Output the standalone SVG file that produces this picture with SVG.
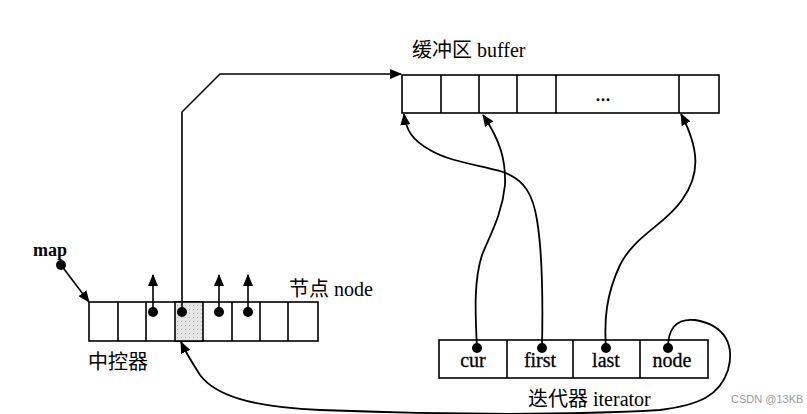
<svg xmlns="http://www.w3.org/2000/svg" width="807" height="414" viewBox="0 0 807 414">
<defs>
<marker id="ah" markerWidth="12" markerHeight="10" refX="11" refY="5" orient="auto" markerUnits="userSpaceOnUse">
<path d="M0,0 L12,5 L0,10 Z" fill="#000"/>
</marker>
<pattern id="sh" width="4" height="4" patternUnits="userSpaceOnUse">
<rect width="4" height="4" fill="#e6e6e6"/>
<rect x="1" y="1" width="1" height="1" fill="#aaa"/>
</pattern>
</defs>
<style>
.box{fill:#fff;stroke:#000;stroke-width:1.6}
.ln{fill:none;stroke:#000;stroke-width:1.6}
.cv{fill:none;stroke:#000;stroke-width:1.8}
.dot{fill:#000}
.lab{font-family:"Liberation Serif","Noto Sans CJK SC",serif;font-size:18px;fill:#000}
.cjk{font-family:"Liberation Serif","Noto Sans CJK SC",sans-serif;font-size:20px;fill:#000}
.cell{font-family:"Liberation Serif",serif;font-size:20px;fill:#000;text-anchor:middle;stroke:#000;stroke-width:0.3}
</style>
<rect width="807" height="414" fill="#fff"/>

<g id="buffer">
<rect class="box" x="402" y="75" width="317" height="38"/>
<path class="ln" d="M441,75V113M479,75V113M517,75V113M556,75V113M679,75V113"/>
<text class="cell" x="603" y="101" stroke-width="0">...</text>
<text class="cjk" x="412" y="57">缓冲区 buffer</text>
</g>

<g id="map">
<rect class="box" x="89" y="302" width="229" height="39"/>
<rect x="175" y="302" width="28" height="39" fill="url(#sh)" stroke="#000" stroke-width="1.6"/>
<path class="ln" d="M118,302V341M146,302V341M232,302V341M260,302V341M288,302V341"/>
<circle class="dot" cx="153" cy="312" r="5"/>
<circle class="dot" cx="182" cy="312" r="5"/>
<circle class="dot" cx="219" cy="312" r="5"/>
<circle class="dot" cx="248" cy="312" r="5"/>
<text class="cjk" x="289" y="296">节点 node</text>
<text class="cjk" x="88" y="369">中控器</text>
</g>

<g id="mapvar">
<text class="lab" x="33" y="256" font-weight="bold">map</text>
<circle class="dot" cx="61" cy="265" r="5"/>
</g>

<g id="iterator">
<rect class="box" x="439" y="340" width="269" height="38"/>
<path class="ln" d="M507,340V378M573,340V378M640,340V378"/>
<circle class="dot" cx="477" cy="348" r="5"/>
<circle class="dot" cx="542" cy="348" r="5"/>
<circle class="dot" cx="606" cy="348" r="5"/>
<circle class="dot" cx="668" cy="348" r="5"/>
<text class="cell" x="473" y="367">cur</text>
<text class="cell" x="540" y="367">first</text>
<text class="cell" x="606" y="367">last</text>
<text class="cell" x="672" y="367">node</text>
<text class="cjk" x="528" y="406">迭代器 iterator</text>
</g>

<text x="731" y="403" font-family="Liberation Sans,sans-serif" font-size="11" fill="#9a9a9a">CSDN @13KB</text>

<g id="connectors">
<path class="ln" d="M61,265 L89,302" marker-end="url(#ah)"/>
<path class="ln" d="M153,312 V275" marker-end="url(#ah)"/>
<path class="ln" d="M219,312 V275" marker-end="url(#ah)"/>
<path class="ln" d="M248,312 V275" marker-end="url(#ah)"/>
<path class="ln" d="M182,312 V112 L220,74 H401" marker-end="url(#ah)"/>
<path class="cv" d="M542,348 C543,300 542,250 537,220 C533,195 525,180 503,172 C480,165 450,162 430,150 C412,140 406,130 404,114" marker-end="url(#ah)"/>
<path class="cv" d="M477,348 C475,310 474,280 482,255 C490,235 502,215 505,185 C506,160 500,140 483,115" marker-end="url(#ah)"/>
<path class="cv" d="M606,348 C604,320 606,295 620,265 C635,235 665,225 682,200 C700,175 700,150 681,114" marker-end="url(#ah)"/>
<path class="cv" d="M668,348 C668,330 675,318 695,320 C725,325 735,345 728,370 C720,395 700,405 660,410 C560,416 420,414 320,410 C250,407 215,395 200,375 C192,362 187,355 181,342" marker-end="url(#ah)"/>
</g>
</svg>
